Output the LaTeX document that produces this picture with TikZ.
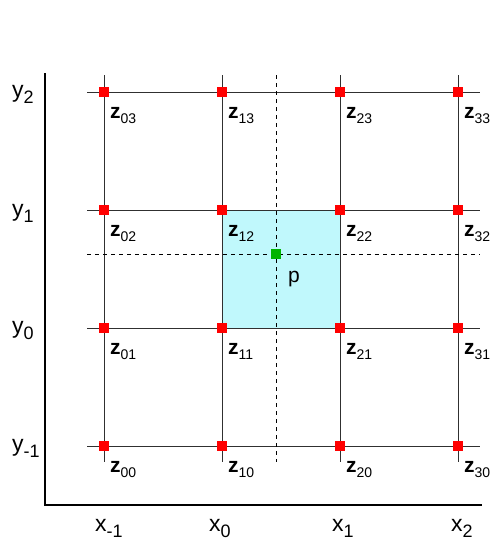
\documentclass[tikz,border=0pt]{standalone}
\usepackage{fontspec}
\setmainfont{Liberation Sans}
\usepackage{tikz}
\usetikzlibrary{positioning}
\definecolor{gridred}{HTML}{FF0000}
\definecolor{pgreen}{HTML}{00B400}
\definecolor{cellcyan}{HTML}{C0F8FC}
\definecolor{gridgray}{HTML}{303030}
\newcommand\axname[2]{#1\raisebox{-0.28em}{\fontsize{18}{20}\selectfont #2}}
\newcommand\knotname[1]{\textbf{z}\raisebox{-0.25em}{\fontsize{14}{16}\selectfont #1}}

\begin{document}
\begin{tikzpicture}[
  x=1pt,y=-1pt,
  gridline/.style={draw=gridgray,line width=0.9pt},
  axis/.style={draw=black,line width=2pt},
  guide/.style={draw=black,line width=0.9pt,dash pattern=on 4pt off 4pt},
  knot/.style={fill=gridred,minimum size=10pt,inner sep=0pt},
  probe/.style={fill=pgreen,minimum size=10pt,inner sep=0pt},
  zlab/.style={anchor=base west,inner sep=0pt,font=\fontsize{21}{24}\selectfont},
  axlab/.style={anchor=base west,inner sep=0pt,font=\fontsize{23}{26}\selectfont}
]
\useasboundingbox (0,0) rectangle (493,543);
% cell holding p
\fill[cellcyan] (222,211) rectangle (340,328);
% grid
\foreach \k in {0,...,3} {
  \draw[gridline] (87,446-118*\k) -- (480,446-118*\k);
  \draw[gridline] (104+118*\k,75) -- (104+118*\k,462);
}
\draw[guide] (276,75) -- (276,462);
\draw[guide] (87,254) -- (480,254);
% axes
\coordinate (otop) at (45,73);
\coordinate (orig) at (45,505);
\coordinate (oend) at (482,505);
\draw[axis] (otop) -- (orig) -- (oend);
% knots and their names
\foreach \i in {0,...,3} {
  \foreach \j in {0,...,3} {
    \node[knot] (z\i\j) at (104+118*\i,446-118*\j) {};
    \node[zlab] (l\i\j) at (110+118*\i,472-118*\j) {\knotname{\i\j}};
  }
}
\node[probe] (p) at (276,254) {};
\node[zlab] (lp) at (288,282) {p};
% axis labels
\node[axlab] (ym) at (12,451) {\axname{y}{-1}};
\node[axlab] (y0) at (12,333) {\axname{y}{0}};
\node[axlab] (y1) at (12,216) {\axname{y}{1}};
\node[axlab] (y2) at (12,97) {\axname{y}{2}};
\node[axlab] (xm) at (95,531) {\axname{x}{-1}};
\node[axlab] (x0) at (209,531) {\axname{x}{0}};
\node[axlab] (x1) at (332,531) {\axname{x}{1}};
\node[axlab] (x2) at (451,531) {\axname{x}{2}};
\end{tikzpicture}
\end{document}
